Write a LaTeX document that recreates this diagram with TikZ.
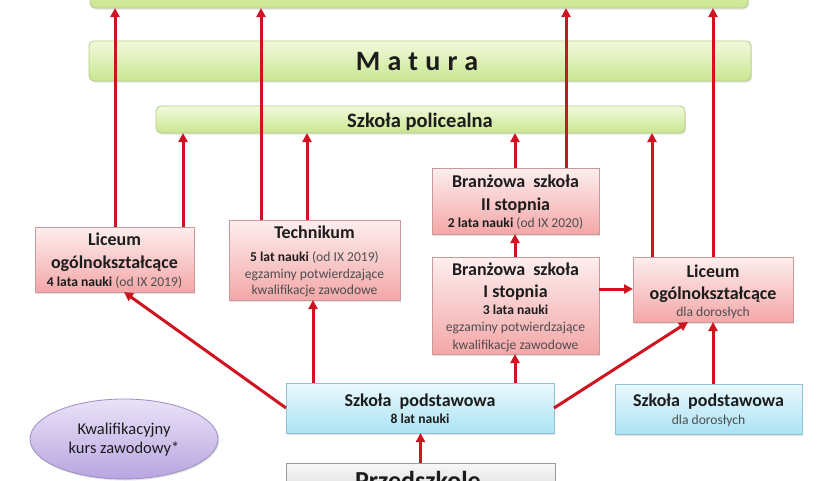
\documentclass[tikz,border=0pt]{standalone}
\usepackage{fontspec}
\setmainfont{Carlito}
\newfontfamily\spacedfont[LetterSpace=26]{Carlito}
\usetikzlibrary{arrows.meta,shadows,calc,shapes.geometric}
\definecolor{arrred}{HTML}{CE1420}
\definecolor{grtop}{HTML}{F2F9DC}
\definecolor{grbot}{HTML}{C9E690}
\definecolor{grdraw}{HTML}{B3CD86}
\definecolor{pktop}{HTML}{FDEEEE}
\definecolor{pkbot}{HTML}{F4A7A8}
\definecolor{pkdraw}{HTML}{C89A9B}
\definecolor{bltop}{HTML}{EAF8FD}
\definecolor{blbot}{HTML}{ACE3F4}
\definecolor{bldraw}{HTML}{8FC3D3}
\definecolor{vitop}{HTML}{EAE2F7}
\definecolor{vibot}{HTML}{B8A5E0}
\definecolor{vidraw}{HTML}{9E8CC7}
\definecolor{gytop}{HTML}{F7F7F7}
\definecolor{gybot}{HTML}{CFCFCF}
\definecolor{gydraw}{HTML}{9A9A9A}
\definecolor{txtdark}{HTML}{1C1C1C}
\definecolor{txtgray}{HTML}{4E4E4E}
\newcommand\ttl{\fontsize{18}{22}\selectfont\bfseries}
\newcommand\sml{\fontsize{13.6}{17}\selectfont}
\newcommand\gap{\hspace{0.45em}}
\begin{document}
\begin{tikzpicture}[x=1pt,y=-1pt,
  boxbase/.style={inner sep=0pt,outer sep=0pt,line width=0.8pt,
    drop shadow={opacity=0.22,shadow xshift=1.2pt,shadow yshift=-1.5pt}},
  greenbox/.style={boxbase,draw=grdraw,rounded corners=5pt,top color=grtop,bottom color=grbot},
  pinkbox/.style={boxbase,draw=pkdraw,top color=pktop,bottom color=pkbot},
  bluebox/.style={boxbase,draw=bldraw,top color=bltop,bottom color=blbot},
  graybox/.style={boxbase,draw=gydraw,top color=gytop,bottom color=gybot},
  violet/.style={boxbase,ellipse,draw=vidraw,top color=vitop,bottom color=vibot},
  txt/.style={anchor=base,inner sep=0pt,text=txtdark},
  arr/.style={draw=arrred,line width=3pt,-{Triangle[length=9pt,width=9pt]}},
]
\useasboundingbox (0,0) rectangle (840,480);
\clip (0,0) rectangle (840,480);

% boxes
\node[greenbox,minimum width=658pt,minimum height=48pt] (top) at (419,-16) {};
\node[greenbox,minimum width=662pt,minimum height=40pt] (mat) at (420,61) {};
\node[greenbox,minimum width=529pt,minimum height=27pt] (pol) at (420.5,119.5) {};
\node[pinkbox,minimum width=159pt,minimum height=65pt] (lic) at (114.5,259.5) {};
\node[pinkbox,minimum width=171pt,minimum height=80pt] (tech) at (314.5,260) {};
\node[pinkbox,minimum width=167pt,minimum height=66pt] (brtwo) at (515.5,201) {};
\node[pinkbox,minimum width=167pt,minimum height=97pt] (brone) at (515.5,305.5) {};
\node[pinkbox,minimum width=160pt,minimum height=65pt] (licd) at (713,289.5) {};
\node[bluebox,minimum width=268pt,minimum height=50pt] (sp) at (420,408) {};
\node[bluebox,minimum width=187pt,minimum height=50pt] (spd) at (708.5,409) {};
\node[graybox,minimum width=269pt,minimum height=50pt] (prz) at (420.5,488) {};
\node[violet,minimum width=188pt,minimum height=80pt] (kkz) at (124,439) {};

% texts
\node[txt] (tmat) at (417,70) {\fontsize{28}{30}\selectfont\spacedfont\bfseries Matura};
\node[txt] (tpol) at (420,127) {\fontsize{20.5}{24}\selectfont\bfseries Szkoła policealna};

\node[txt] (tlic1) at (114.5,245) {\ttl Liceum};
\node[txt] (tlic2) at (114.5,268) {\ttl ogólnokształcące};
\node[txt] (tlic3) at (114.5,286) {\sml\textbf{4 lata nauki} \textcolor{txtgray}{(od IX 2019)}};

\node[txt] (ttech1) at (314.5,238) {\ttl Technikum};
\node[txt] (ttech2) at (314.5,261) {\sml\textbf{5 lat nauki} \textcolor{txtgray}{(od IX 2019)}};
\node[txt,text=txtgray] (ttech3) at (314.5,278) {\sml egzaminy potwierdzające};
\node[txt,text=txtgray] (ttech4) at (314.5,294) {\sml kwalifikacje zawodowe};

\node[txt] (tbr21) at (515.5,187) {\ttl Branżowa\gap szkoła};
\node[txt] (tbr22) at (515.5,210) {\ttl II stopnia};
\node[txt] (tbr23) at (515.5,227) {\sml\textbf{2 lata nauki} \textcolor{txtgray}{(od IX 2020)}};

\node[txt] (tbr11) at (515.5,275) {\ttl Branżowa\gap szkoła};
\node[txt] (tbr12) at (515.5,297) {\ttl I stopnia};
\node[txt] (tbr13) at (515.5,314) {\sml\bfseries 3 lata nauki};
\node[txt,text=txtgray] (tbr14) at (515.5,331) {\sml egzaminy potwierdzające};
\node[txt,text=txtgray] (tbr15) at (515.5,349) {\sml kwalifikacje zawodowe};

\node[txt] (tlicd1) at (713,277) {\ttl Liceum};
\node[txt] (tlicd2) at (713,299) {\ttl ogólnokształcące};
\node[txt,text=txtgray] (tlicd3) at (713,316) {\sml dla dorosłych};

\node[txt] (tsp1) at (420,406) {\ttl Szkoła\gap podstawowa};
\node[txt] (tsp2) at (420,423) {\sml\bfseries 8 lat nauki};

\node[txt] (tspd1) at (708.5,406) {\ttl Szkoła\gap podstawowa};
\node[txt,text=txtgray] (tspd2) at (708.5,424) {\sml dla dorosłych};

\node[txt] (tkkz1) at (124,434) {\fontsize{16.5}{20}\selectfont Kwalifikacyjny};
\node[txt] (tkkz2) at (124,453) {\fontsize{16.5}{20}\selectfont kurs zawodowy*};

\node[txt] (tprz) at (418,489) {\fontsize{26}{30}\selectfont\bfseries Przedszkole};

% connectors
\draw[arr] ([xshift=0.5pt]lic.north) -- ([xshift=0.5pt]lic.north |- top.south);
\draw[arr] ([xshift=68.5pt]lic.north) -- ([xshift=68.5pt]lic.north |- pol.south);
\draw[arr] ([xshift=-53.5pt]tech.north) -- ([xshift=-53.5pt]tech.north |- top.south);
\draw[arr] ([xshift=-7.5pt]tech.north) -- ([xshift=-7.5pt]tech.north |- pol.south);
\draw[arr] ([xshift=-0.5pt]brtwo.north) -- ([xshift=-0.5pt]brtwo.north |- pol.south);
\draw[arr] ([xshift=50.5pt]brtwo.north) -- ([xshift=50.5pt]brtwo.north |- top.south);
\draw[arr] ([xshift=-61pt]licd.north) -- ([xshift=-61pt]licd.north |- pol.south);
\draw[arr] (licd.north) -- (licd.north |- top.south);
\draw[arr] ([xshift=-0.5pt]brone.north) -- ([xshift=-0.5pt]brone.north |- brtwo.south);
\draw[arr] ([yshift=16.5pt]brone.east) -- ([yshift=16.5pt]brone.east -| licd.west);
\draw[arr] (sp.west) -- ([xshift=9.5pt]lic.south);
\draw[arr] ([xshift=-107pt]sp.north) -- ([xshift=-107pt]sp.north |- tech.south);
\draw[arr] ([xshift=95pt]sp.north) -- ([xshift=95pt]sp.north |- brone.south);
\draw[arr] (sp.east) -- ([xshift=-25pt]licd.south);
\draw[arr] ([xshift=4.5pt]spd.north) -- ([xshift=4.5pt]spd.north |- licd.south);
\draw[arr] (prz.north) -- (prz.north |- sp.south);
\end{tikzpicture}
\end{document}
